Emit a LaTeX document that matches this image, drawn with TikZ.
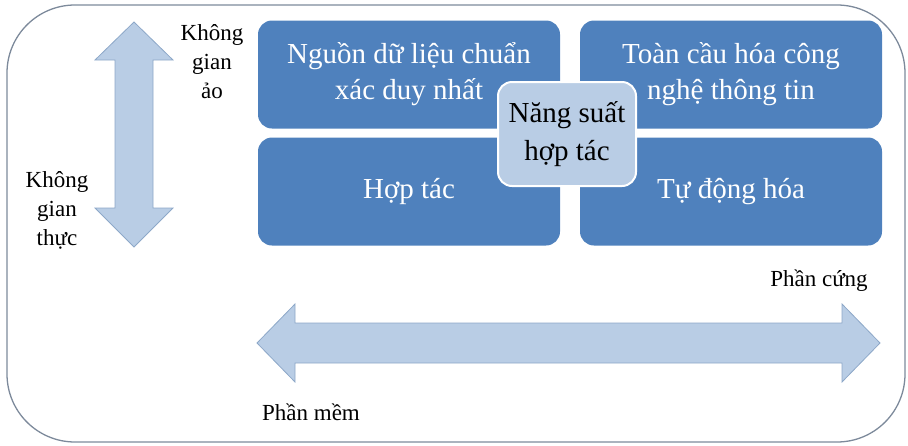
\documentclass[tikz,border=0pt]{standalone}
\usepackage{fontspec}
\setmainfont{Liberation Serif}
\definecolor{boxblue}{HTML}{4F81BD}
\definecolor{lightblue}{HTML}{B9CDE5}
\definecolor{arrowedge}{HTML}{8DA8C8}
\definecolor{framegray}{HTML}{7D8A9B}
\begin{document}
\begin{tikzpicture}[x=1pt,y=-1pt,
  bigbox/.style={draw=none,fill=boxblue,rounded corners=14pt,minimum width=302pt,minimum height=108pt,inner sep=0pt,text=white,align=center,font=\fontsize{29}{36}\selectfont},
  centerbox/.style={draw=white,line width=2pt,fill=lightblue,rounded corners=14pt,minimum width=138pt,minimum height=104pt,inner sep=0pt,text=black,align=center,font=\fontsize{29}{38}\selectfont},
  sidelabel/.style={inner sep=0pt,align=center,font=\fontsize{23}{29}\selectfont},
  fatarrow/.style={fill=lightblue,draw=arrowedge,line width=0.8pt,line join=miter}]
\useasboundingbox (0,0) rectangle (908,445);
% frame
\draw[framegray,line width=1.3pt,rounded corners=68pt] (7,5) rectangle (905,442);
% boxes
\node[bigbox] (tl) at (409,74.5) {Nguồn dữ liệu chuẩn\\xác duy nhất};
\node[bigbox] (tr) at (731,74.5) {Toàn cầu hóa công\\nghệ thông tin};
\node[bigbox] (bl) at (409,191.5) {Hợp tác};
\node[bigbox] (br) at (731,191.5) {Tự động hóa};
\node[centerbox] (c) at (567,134) {Năng suất\\hợp tác};
% vertical arrow
\draw[fatarrow] (134,22) -- (173,60) -- (153,60) -- (153,208) -- (173,208) -- (134,247)
  -- (95,208) -- (115,208) -- (115,60) -- (95,60) -- cycle;
% horizontal arrow
\draw[fatarrow] (257,343) -- (295,304) -- (295,323) -- (842,323) -- (842,304) -- (880,343)
  -- (842,382) -- (842,363) -- (295,363) -- (295,382) -- cycle;
% labels
\node[sidelabel] (ao) at (212,62) {Không\\gian\\ảo};
\node[sidelabel] (thuc) at (57,210) {Không\\gian\\thực};
\node[sidelabel] (cung) at (819,281) {Phần cứng};
\node[sidelabel] (mem) at (311,412) {Phần mềm};
\end{tikzpicture}
\end{document}
